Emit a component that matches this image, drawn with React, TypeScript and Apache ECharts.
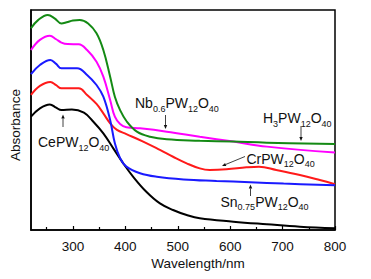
import React, { useEffect, useRef } from "react";
import * as echarts from "echarts";

// Wavelength (nm) and relative absorbance
const h3Wl = [220, 234, 252, 265, 278, 288, 300, 313, 329, 345, 358, 371, 380, 390, 403, 422, 447, 479, 542, 606, 670, 800];
const h3Abs = [0.917, 0.955, 0.977, 0.962, 0.939, 0.944, 0.952, 0.955, 0.939, 0.894, 0.818, 0.697, 0.606, 0.545, 0.492, 0.447, 0.424, 0.412, 0.406, 0.402, 0.397, 0.391];

const nbWl = [220, 237, 256, 268, 278, 290, 311, 327, 345, 358, 371, 380, 390, 402, 428, 479, 542, 606, 670, 800];
const nbAbs = [0.818, 0.864, 0.883, 0.867, 0.852, 0.845, 0.844, 0.818, 0.765, 0.697, 0.591, 0.515, 0.482, 0.467, 0.462, 0.447, 0.424, 0.402, 0.379, 0.352];

const snWl = [220, 237, 257, 268, 278, 308, 327, 345, 358, 371, 380, 390, 402, 428, 460, 511, 574, 638, 702, 800];
const snAbs = [0.709, 0.75, 0.773, 0.755, 0.735, 0.735, 0.705, 0.659, 0.606, 0.5, 0.394, 0.326, 0.288, 0.258, 0.242, 0.23, 0.223, 0.217, 0.211, 0.203];

const crWl = [220, 237, 257, 268, 278, 311, 327, 345, 358, 371, 384, 402, 434, 466, 491, 517, 542, 561, 593, 631, 655, 688, 733, 771, 800];
const crAbs = [0.614, 0.655, 0.673, 0.658, 0.644, 0.644, 0.614, 0.573, 0.53, 0.485, 0.455, 0.436, 0.402, 0.364, 0.333, 0.303, 0.28, 0.273, 0.276, 0.285, 0.288, 0.273, 0.25, 0.227, 0.208];

const ceWl = [220, 237, 256, 268, 278, 298, 321, 339, 358, 377, 396, 415, 440, 466, 491, 517, 542, 606, 670, 733, 800];
const ceAbs = [0.515, 0.553, 0.571, 0.556, 0.545, 0.548, 0.533, 0.492, 0.439, 0.371, 0.303, 0.242, 0.174, 0.121, 0.091, 0.068, 0.053, 0.038, 0.026, 0.015, 0.008];

const majorTicks = [300, 400, 500, 600, 700, 800];
const minorTicks = [250, 350, 450, 550, 650, 750];

const FONT = "Arial, 'Liberation Sans', sans-serif";

const pairs = (xs: number[], ys: number[]) => xs.map((x, i) => [x, ys[i]]);

const rich = {
  n: { fontSize: 14, fontFamily: FONT, fill: "#111", verticalAlign: "top", lineHeight: 17 },
  s: { fontSize: 9, fontFamily: FONT, fill: "#111", verticalAlign: "bottom", height: 9, lineHeight: 17 },
};

function label(x: number, y: number, text: string) {
  return {
    type: "text",
    x,
    y,
    style: { text, rich, align: "left", verticalAlign: "top", font: `14px ${FONT}`, fill: "#111" },
  };
}

function arrow(x1: number, y1: number, x2: number, y2: number) {
  const dx = x2 - x1;
  const dy = y2 - y1;
  const len = Math.sqrt(dx * dx + dy * dy);
  const ux = dx / len;
  const uy = dy / len;
  const hl = 4;
  const hw = 1.7;
  const bx = x2 - ux * hl;
  const by = y2 - uy * hl;
  return [
    { type: "line", shape: { x1, y1, x2: bx, y2: by }, style: { stroke: "#111", lineWidth: 0.8 } },
    {
      type: "polygon",
      shape: {
        points: [
          [x2, y2],
          [bx - uy * hw, by + ux * hw],
          [bx + uy * hw, by - ux * hw],
        ],
      },
      style: { fill: "#111" },
    },
  ];
}

export default function App() {
  const ref = useRef<HTMLDivElement>(null);
  useEffect(() => {
    document.body.style.margin = "0";
    const chart = echarts.init(ref.current!, null, { renderer: "svg" });
    const mk = (name: string, color: string, xs: number[], ys: number[]) => ({
      name,
      type: "line",
      xAxisIndex: 0,
      yAxisIndex: 0,
      data: pairs(xs, ys),
      smooth: 0.4,
      showSymbol: false,
      symbol: "none",
      lineStyle: { color, width: 2 },
      itemStyle: { color },
    });
    chart.setOption({
      animation: false,
      backgroundColor: "#fff",
      grid: { left: 31, right: 36, top: 10, bottom: 49, show: true, borderColor: "#000", borderWidth: 1.5, backgroundColor: "transparent" },
      xAxis: [
        {
          type: "value",
          min: 220,
          max: 800,
          position: "bottom",
          axisLine: { show: true, lineStyle: { color: "#000", width: 1.5 } },
          axisTick: { show: true, inside: true, length: 4, customValues: majorTicks, lineStyle: { color: "#000", width: 1.2 } },
          axisLabel: { show: true, customValues: majorTicks, margin: 9, color: "#111", fontSize: 13.5, fontFamily: FONT },
          splitLine: { show: false },
        },
        {
          type: "value",
          min: 220,
          max: 800,
          position: "bottom",
          axisLine: { show: false },
          axisTick: { show: true, inside: true, length: 3, customValues: minorTicks, lineStyle: { color: "#000", width: 1.2 } },
          axisLabel: { show: false },
          splitLine: { show: false },
        },
      ],
      yAxis: {
        type: "value",
        min: 0,
        max: 1,
        axisLine: { show: true, lineStyle: { color: "#000", width: 1.5 } },
        axisTick: { show: false },
        axisLabel: { show: false },
        splitLine: { show: false },
      },
      series: [
        mk("CePW12O40", "#000000", ceWl, ceAbs),
        mk("CrPW12O40", "#ff1a1a", crWl, crAbs),
        mk("Sn0.75PW12O40", "#1a1aff", snWl, snAbs),
        mk("Nb0.6PW12O40", "#ff00ff", nbWl, nbAbs),
        mk("H3PW12O40", "#148a14", h3Wl, h3Abs),
      ],
      graphic: [
        {
          type: "text",
          x: 15,
          y: 125,
          rotation: Math.PI / 2,
          style: { text: "Absorbance", font: `13.5px ${FONT}`, fill: "#111", align: "center", verticalAlign: "middle" },
        },
        {
          type: "text",
          x: 198,
          y: 263,
          style: { text: "Wavelength/nm", font: `13.5px ${FONT}`, fill: "#111", align: "center", verticalAlign: "middle" },
        },
        label(135, 96, "{n|Nb}{s|0.6}{n|PW}{s|12}{n|O}{s|40}"),
        label(263, 111, "{n|H}{s|3}{n|PW}{s|12}{n|O}{s|40}"),
        label(246.5, 151.5, "{n|CrPW}{s|12}{n|O}{s|40}"),
        label(220.5, 194.5, "{n|Sn}{s|0.75}{n|PW}{s|12}{n|O}{s|40}"),
        label(38, 135, "{n|CePW}{s|12}{n|O}{s|40}"),
        ...arrow(165.5, 115, 165.5, 129),
        ...arrow(301, 126, 301, 141),
        ...arrow(245, 156.5, 222, 166),
        ...arrow(250.5, 196, 250.5, 184.5),
        ...arrow(63, 127, 63, 114.5),
      ],
    });
    return () => chart.dispose();
  }, []);
  return <div ref={ref} style={{ width: 371, height: 279 }} />;
}
